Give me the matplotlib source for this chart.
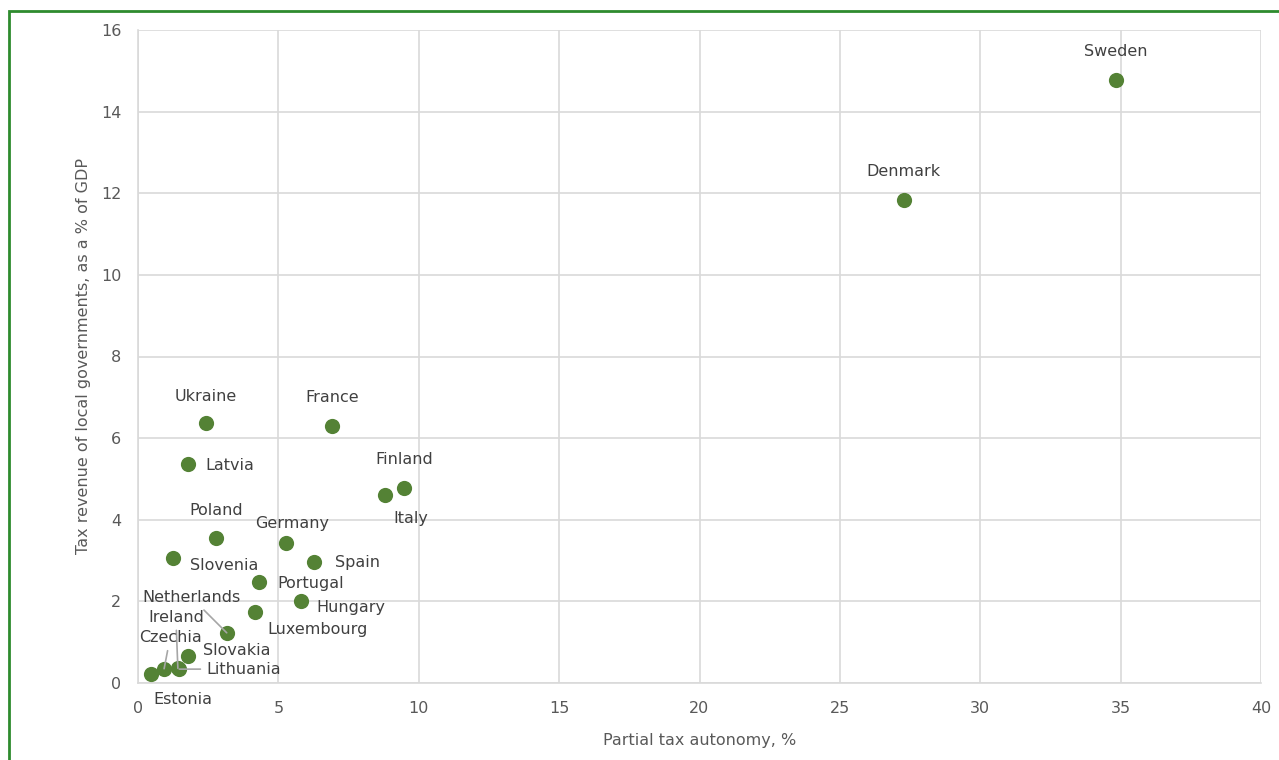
import matplotlib
matplotlib.use("Agg")
import matplotlib.pyplot as plt
from matplotlib.patches import Rectangle

# Country data
countries = ["Sweden", "Denmark", "Ukraine", "France", "Latvia", "Finland", "Italy",
             "Poland", "Germany", "Slovenia", "Spain", "Portugal", "Hungary",
             "Luxembourg", "Netherlands", "Ireland", "Czechia", "Slovakia",
             "Lithuania", "Estonia"]
autonomy = [34.83, 27.27, 2.42, 6.92, 1.78, 9.48, 8.81,
            2.78, 5.28, 1.25, 6.27, 4.31, 5.81,
            4.17, 3.16, 1.42, 0.93, 1.77,
            1.47, 0.45]
revenue = [14.78, 11.84, 6.37, 6.30, 5.37, 4.78, 4.61,
           3.55, 3.43, 3.06, 2.97, 2.48, 2.01,
           1.74, 1.23, 0.36, 0.35, 0.67,
           0.34, 0.22]

# label offsets in pixels (dx, dy) and whether to draw a leader line
label_offsets = {
    "Sweden": (0, 28), "Denmark": (0, 28), "Ukraine": (0, 27), "France": (0, 28),
    "Latvia": (42, -2), "Finland": (0, 28), "Italy": (25, -24), "Poland": (0, 28),
    "Germany": (6, 20), "Slovenia": (51, -7), "Spain": (43, -1), "Portugal": (52, -2),
    "Hungary": (50, -7), "Luxembourg": (62, -18), "Netherlands": (-35, 35),
    "Ireland": (-2, 51), "Czechia": (6, 31), "Slovakia": (49, 5),
    "Lithuania": (64, 0), "Estonia": (32, -25),
}
leaders = {"Netherlands", "Ireland", "Czechia", "Lithuania"}

fig = plt.figure(figsize=(12.79, 7.6), dpi=100)
ax = fig.add_axes([138 / 1279, 1 - 683 / 760, (1261 - 138) / 1279, (683 - 30) / 760])

ax.scatter(autonomy, revenue, s=120, color="#548235", zorder=3, linewidths=0)

for name, x, y in zip(countries, autonomy, revenue):
    dx, dy = label_offsets[name]
    arrow = None
    if name in leaders:
        arrow = dict(arrowstyle="-", color="#a6a6a6", lw=1.2, shrinkA=2, shrinkB=0)
    ax.annotate(name, (x, y), xytext=(dx, dy), textcoords="offset pixels",
                ha="center", va="center", fontsize=11.5, color="#404040",
                arrowprops=arrow, zorder=4)

ax.set_xlim(0, 40)
ax.set_ylim(0, 16)
ax.set_xticks(range(0, 41, 5))
ax.set_yticks(range(0, 17, 2))
ax.grid(True, color="#d9d9d9", lw=1.2)
ax.set_axisbelow(True)
for side in ["top", "right"]:
    ax.spines[side].set_visible(False)
for side in ["left", "bottom"]:
    ax.spines[side].set_color("#d9d9d9")
    ax.spines[side].set_linewidth(1.2)
ax.tick_params(length=0, labelsize=11.5, labelcolor="#595959")
ax.tick_params(axis="x", pad=13)
ax.tick_params(axis="y", pad=12)

ax.set_xlabel("Partial tax autonomy, %", fontsize=11.5, color="#595959", labelpad=12)
ax.set_ylabel("Tax revenue of local governments, as a % of GDP", fontsize=11.5,
              color="#595959", labelpad=7)

# green frame around the chart
fig.patches.append(Rectangle((9 / 1279, -0.1), 1.1, 1 - 11 / 760 + 0.1,
                             transform=fig.transFigure, fill=False,
                             edgecolor="#2e8b2e", lw=2))

fig.savefig("out.png", dpi=100)
